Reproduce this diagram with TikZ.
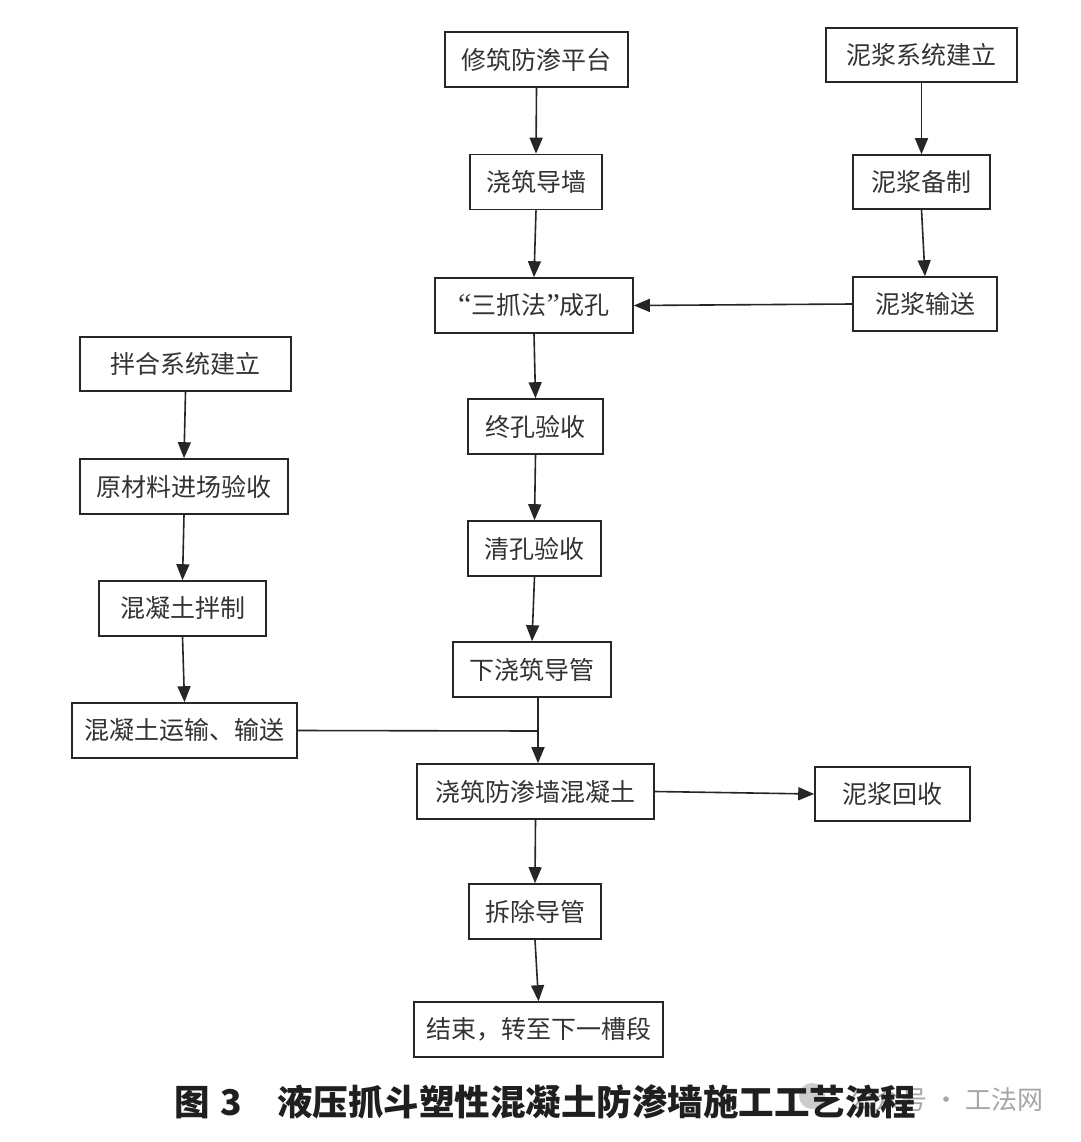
\documentclass[tikz,border=0pt]{standalone}
\usepackage{fontspec}
\newfontfamily\cjk{Noto Sans CJK SC}
\newfontfamily\latq{Liberation Serif}
\usetikzlibrary{arrows.meta,calc}
\tikzset{
  box/.style={draw=black!85, line width=1.6pt, inner sep=0pt, minimum height=55pt,
    font=\cjk\fontsize{25}{25}\selectfont, text=black!80},
  arr/.style={line width=1.6pt, draw=black!85, -{Triangle[length=16pt,width=13pt]}},
  ln/.style={line width=1.6pt, draw=black!85}
}
\begin{document}
\begin{tikzpicture}[x=1pt,y=-1pt]
\useasboundingbox (0,0) rectangle (1080,1142);
\fill[white] (0,0) rectangle (1080,1142);
% centre column
\node[box, minimum width=183pt] (p1) at (536.5,59.5) {修筑防渗平台};
\node[box, minimum width=132pt] (p2) at (536,182) {浇筑导墙};
\node[box, minimum width=198pt] (p3) at (534,305.5) {{\latq\fontsize{30}{30}\selectfont “}三抓法{\latq\fontsize{30}{30}\selectfont ”}成孔};
\node[box, minimum width=135pt] (p4) at (535.5,426.5) {终孔验收};
\node[box, minimum width=133pt] (p5) at (534.5,548.5) {清孔验收};
\node[box, minimum width=158pt] (p6) at (532,669.5) {下浇筑导管};
\node[box, minimum width=237pt] (p7) at (535.5,791.5) {浇筑防渗墙混凝土};
\node[box, minimum width=132pt] (p8) at (535,911.5) {拆除导管};
\node[box, minimum width=249pt] (p9) at (538.5,1029.5) {结束，转至下一槽段};
% right column
\node[box, minimum width=191pt, minimum height=54pt] (n1) at (921.5,55) {泥浆系统建立};
\node[box, minimum width=137pt, minimum height=54pt] (n2) at (921.5,182) {泥浆备制};
\node[box, minimum width=144pt, minimum height=54pt] (n3) at (925,304) {泥浆输送};
\node[box, minimum width=155pt, minimum height=54pt] (r1) at (892.5,794) {泥浆回收};
% left column
\node[box, minimum width=211pt, minimum height=54pt] (m1) at (185.5,364) {拌合系统建立};
\node[box, minimum width=208pt] (m2) at (184,486.5) {原材料进场验收};
\node[box, minimum width=167pt] (m3) at (182.5,608.5) {混凝土拌制};
\node[box, minimum width=225pt] (m4) at (184.5,730.5) {混凝土运输、输送};
% connectors
\draw[arr] (p1.south) -- (p2.north);
\draw[arr] (p2.south) -- (p3.north);
\draw[arr] (p3.south) -- (p4.north);
\draw[arr] (p4.south) -- (p5.north);
\draw[arr] (p5.south) -- (p6.north);
\coordinate (j) at (538,731);
\draw[ln] (p6.south -| j) -- (j);
\draw[arr] (j) -- (j |- p7.north);
\draw[ln] (m4.east) -- (j);
\draw[arr] (p7.south) -- (p8.north);
\draw[arr] (p8.south) -- (p9.north);
\draw[arr] (n1.south) -- (n2.north);
\draw[arr] (n2.south) -- (n3.north);
\draw[arr] (n3.west) -- (p3.east);
\draw[arr] (m1.south) -- (m2.north);
\draw[arr] (m2.south) -- (m3.north);
\draw[arr] (m3.south) -- (m4.north);
\draw[arr] (p7.east) -- (r1.west);
% watermark
\fill[black!20] (812,1096) circle (13);
\node[anchor=east, font=\cjk\fontsize{26}{26}\selectfont, text=black!35] (wm) at (1047,1100) {公众号 · 工法网};
% caption
\node[anchor=west, font=\cjk\bfseries\fontsize{35.5}{35.5}\selectfont, text=black!88, inner sep=0pt] (cap) at (174,1102) {图\hspace{0.3em}3\hspace{1em}液压抓斗塑性混凝土防渗墙施工工艺流程};
\end{tikzpicture}
\end{document}
